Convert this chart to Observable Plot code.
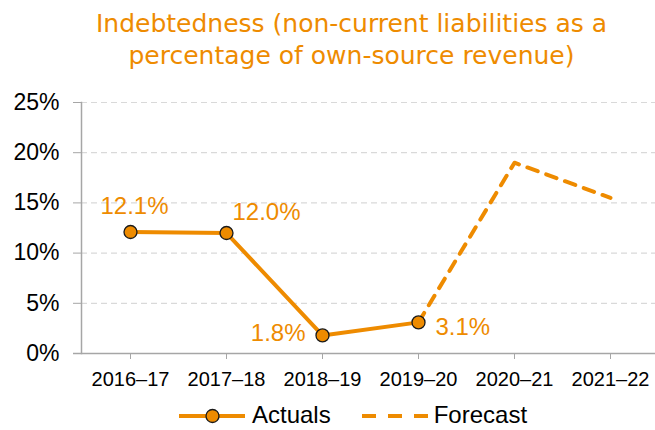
<!DOCTYPE html>
<html>
<head>
<meta charset="utf-8">
<script src="https://cdn.jsdelivr.net/npm/d3@7"></script>
<script src="https://cdn.jsdelivr.net/npm/@observablehq/plot@0.6"></script>
<style>
  html, body { margin: 0; padding: 0; background: white; overflow: hidden; width: 655px; height: 430px; }
  #wrap { position: relative; width: 655px; height: 430px; }
  #title { position: absolute; left: 0; top: 8px; width: 655px; padding-left: 48px; box-sizing: border-box;
    text-align: center; color: #ee8b00; font-family: "DejaVu Sans", sans-serif;
    font-size: 25px; line-height: 32px; white-space: nowrap; }
  #chart { position: absolute; left: 0; top: 82px; }
  #legend { position: absolute; left: 179px; top: 405px; height: 20px; display: flex; align-items: center;
    font-family: "Liberation Sans", Arial, sans-serif; font-size: 24px; line-height: 20px; color: #000; }
  #legend svg { display: block; }
</style>
</head>
<body>
<div id="wrap">
  <div id="title">Indebtedness (non-current liabilities as a<br>percentage of own-source revenue)</div>
  <div id="chart"></div>
  <div id="legend"></div>
</div>
<script>
const categories = ["2016–17", "2017–18", "2018–19", "2019–20", "2020–21", "2021–22"];
const actualYears = ["2016–17", "2017–18", "2018–19", "2019–20"];
const actualValues = [12.1, 12.0, 1.8, 3.1];
const actualLabels = ["12.1%", "12.0%", "1.8%", "3.1%"];
const forecastYears = ["2019–20", "2020–21", "2021–22"];
const forecastValues = [3.1, 19.0, 15.5];
const yTicks = [0, 5, 10, 15, 20, 25];
const seriesNames = ["Actuals", "Forecast"];

const orange = "#ee8b00";
const actuals = actualYears.map((year, i) => ({year, value: actualValues[i], label: actualLabels[i]}));
const forecast = forecastYears.map((year, i) => ({year, value: forecastValues[i]}));

const chart = Plot.plot({
  width: 655,
  height: 318,
  marginLeft: 81,
  marginRight: -4,
  marginTop: 20,
  marginBottom: 47,
  style: {fontFamily: "'Liberation Sans', Arial, sans-serif", background: "white", overflow: "visible"},
  x: {type: "band", domain: categories, padding: 0, label: null},
  y: {domain: [0, 25], label: null},
  marks: [
    Plot.gridY(yTicks, {stroke: "#d9d9d9", strokeOpacity: 1, strokeDasharray: "6,4", strokeWidth: 1.2}),
    Plot.axisY(yTicks, {tickSize: 8, tickPadding: 14, tickFormat: d => d + "%", fontSize: 23, stroke: "#a6a6a6", fill: "#000", label: null}),
    Plot.axisX({tickSize: 6, tickPadding: 12, fontSize: 20, stroke: "#a6a6a6", fill: "#000", label: null}),
    Plot.frame({anchor: "left", stroke: "#a6a6a6", strokeWidth: 1.5}),
    Plot.ruleY([0], {stroke: "#a6a6a6", strokeWidth: 1.5, insetLeft: -8}),
    Plot.line(forecast, {x: "year", y: "value", stroke: orange, strokeWidth: 4, strokeDasharray: "11,9", strokeLinecap: "round"}),
    Plot.line(actuals, {x: "year", y: "value", stroke: orange, strokeWidth: 4}),
    Plot.dot(actuals, {x: "year", y: "value", r: 6.5, fill: orange, stroke: "#1a1a1a", strokeWidth: 1.3}),
    Plot.text(actuals.filter((d, i) => i === 0), {x: "year", y: "value", text: "label", fill: orange, fontSize: 24, dx: 4, dy: -26}),
    Plot.text(actuals.filter((d, i) => i === 1), {x: "year", y: "value", text: "label", fill: orange, fontSize: 24, dx: 40, dy: -21}),
    Plot.text(actuals.filter((d, i) => i === 2), {x: "year", y: "value", text: "label", fill: orange, fontSize: 24, dx: -17, dy: -2, textAnchor: "end"}),
    Plot.text(actuals.filter((d, i) => i === 3), {x: "year", y: "value", text: "label", fill: orange, fontSize: 24, dx: 17, dy: 5, textAnchor: "start"})
  ]
});
document.getElementById("chart").appendChild(chart);

// Legend
const legend = document.getElementById("legend");
function swatch(dashed) {
  const ns = "http://www.w3.org/2000/svg";
  const svg = document.createElementNS(ns, "svg");
  svg.setAttribute("width", 66);
  svg.setAttribute("height", 20);
  const line = document.createElementNS(ns, "line");
  line.setAttribute("x1", 0); line.setAttribute("x2", 66);
  line.setAttribute("y1", 11); line.setAttribute("y2", 11);
  line.setAttribute("stroke", orange); line.setAttribute("stroke-width", 4);
  if (dashed) { line.setAttribute("stroke-dasharray", "14,12"); }
  svg.appendChild(line);
  if (!dashed) {
    const c = document.createElementNS(ns, "circle");
    c.setAttribute("cx", 33.5); c.setAttribute("cy", 11); c.setAttribute("r", 6.5);
    c.setAttribute("fill", orange); c.setAttribute("stroke", "#1a1a1a"); c.setAttribute("stroke-width", 1.3);
    svg.appendChild(c);
  }
  return svg;
}
seriesNames.forEach((name, i) => {
  const item = document.createElement("div");
  item.style.display = "flex";
  item.style.alignItems = "center";
  item.style.marginRight = i === 0 ? "31px" : "0";
  item.appendChild(swatch(i === 1));
  const t = document.createElement("span");
  t.textContent = name;
  t.style.marginLeft = i === 0 ? "7px" : "6px";
  t.style.lineHeight = "20px";
  item.appendChild(t);
  legend.appendChild(item);
});
</script>
</body>
</html>
